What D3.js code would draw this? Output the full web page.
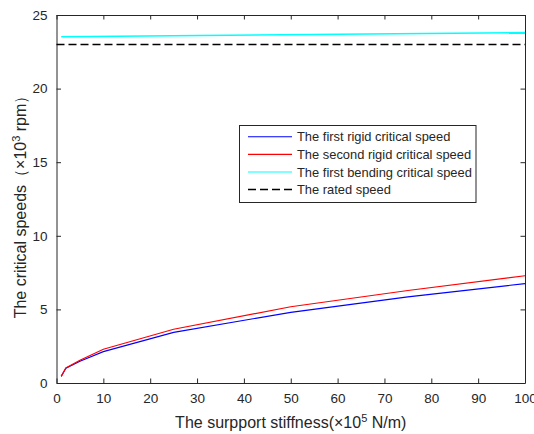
<!DOCTYPE html>
<html>
<head>
<meta charset="utf-8">
<script src="https://cdn.jsdelivr.net/npm/d3@7"></script>
<style>
  html, body { margin: 0; padding: 0; background: #fff; }
  svg { display: block; }
  text { font-family: "Liberation Sans", Arial, Helvetica, sans-serif; fill: #262626; }
</style>
</head>
<body>
<svg id="chart" width="534" height="434"></svg>
<script>
// Support stiffness (×10^5 N/m)
const stiffness = [1, 2, 5, 10, 25, 50, 75, 100];
// Critical speeds (×10^3 rpm)
const firstRigid  = [0.45, 1.00, 1.48, 2.13, 3.44, 4.80, 5.85, 6.75];
const secondRigid = [0.45, 1.02, 1.55, 2.29, 3.65, 5.18, 6.28, 7.29];
const bendingX = [1, 100];
const firstBending = [23.52, 23.80];
const ratedX = [0, 100];
const rated = [23, 23];

const xTicks = [0, 10, 20, 30, 40, 50, 60, 70, 80, 90, 100];
const yTicks = [0, 5, 10, 15, 20, 25];

const legendLabels = [
  "The first rigid critical speed",
  "The second rigid critical speed",
  "The first bending critical speed",
  "The rated speed"
];

const svg = d3.select("#chart");
const W = 534, H = 434;
const m = { left: 56.5, right: 9, top: 15, bottom: 51 };
const x = d3.scaleLinear().domain([0, 100]).range([m.left, W - m.right]);
const y = d3.scaleLinear().domain([0, 25]).range([H - m.bottom, m.top]);

svg.append("rect").attr("width", W).attr("height", H).attr("fill", "#fff");

const axisColor = "#262626";
const tickLen = 4.5;

// Bottom & left axes with inward ticks
const gx = svg.append("g").attr("transform", `translate(0,${y(0)})`)
  .call(d3.axisBottom(x).tickValues(xTicks).tickSizeInner(-tickLen).tickSizeOuter(0).tickPadding(10));
const gy = svg.append("g").attr("transform", `translate(${x(0)},0)`)
  .call(d3.axisLeft(y).tickValues(yTicks).tickSizeInner(-tickLen).tickSizeOuter(0).tickPadding(9));
// Top & right mirrored ticks (no labels)
const gt = svg.append("g").attr("transform", `translate(0,${y(25)})`)
  .call(d3.axisTop(x).tickValues(xTicks).tickSizeInner(-tickLen).tickSizeOuter(0).tickFormat(""));
const gr = svg.append("g").attr("transform", `translate(${x(100)},0)`)
  .call(d3.axisRight(y).tickValues(yTicks).tickSizeInner(-tickLen).tickSizeOuter(0).tickFormat(""));

[gx, gy, gt, gr].forEach(g => {
  g.selectAll("path").attr("stroke", axisColor).attr("stroke-width", 1);
  g.selectAll("line").attr("stroke", axisColor).attr("stroke-width", 1);
  g.selectAll("text").attr("font-size", 13.5).attr("fill", axisColor)
    .style("font-family", '"Liberation Sans", Arial, sans-serif');
});

const line = (xs, ys) => d3.line().x((d, i) => x(xs[i])).y(d => y(d))(ys);

const plot = svg.append("g");
plot.append("path").attr("d", line(ratedX, rated))
  .attr("fill", "none").attr("stroke", "#000").attr("stroke-width", 1.5)
  .attr("stroke-dasharray", "8,4");
plot.append("path").attr("d", line(bendingX, firstBending))
  .attr("fill", "none").attr("stroke", "#00ffff").attr("stroke-width", 1.6);
plot.append("path").attr("d", line(stiffness, firstRigid))
  .attr("fill", "none").attr("stroke", "#0000ff").attr("stroke-width", 1.1);
plot.append("path").attr("d", line(stiffness, secondRigid))
  .attr("fill", "none").attr("stroke", "#ff0000").attr("stroke-width", 1.1);

// Axis titles
const xt = svg.append("text")
  .attr("x", (x(0) + x(100)) / 2).attr("y", 428)
  .attr("text-anchor", "middle").attr("font-size", 16);
xt.append("tspan").text("The surpport stiffness(×10");
xt.append("tspan").attr("dy", -6.5).attr("font-size", 11).text("5");
xt.append("tspan").attr("dy", 6.5).text(" N/m)");

const yt = svg.append("text")
  .attr("transform", `translate(26,${(y(0) + y(25)) / 2 + 4}) rotate(-90)`)
  .attr("text-anchor", "middle").attr("font-size", 16);
yt.append("tspan").text("The critical speeds（×10");
yt.append("tspan").attr("dy", -6.5).attr("font-size", 11).text("3");
yt.append("tspan").attr("dy", 6.5).text(" rpm）");

// Legend
const lg = svg.append("g");
lg.append("rect").attr("x", 239.5).attr("y", 125.5).attr("width", 236.5).attr("height", 77)
  .attr("fill", "#fff").attr("stroke", axisColor).attr("stroke-width", 1);
const legendStyles = [
  { color: "#0000ff", dash: null, w: 1.1 },
  { color: "#ff0000", dash: null, w: 1.1 },
  { color: "#00ffff", dash: null, w: 1.1 },
  { color: "#000000", dash: "8,4", w: 1.5 }
];
legendLabels.forEach((label, i) => {
  const cy = 136.8 + i * 17.6;
  lg.append("line").attr("x1", 248).attr("x2", 292).attr("y1", cy).attr("y2", cy)
    .attr("stroke", legendStyles[i].color).attr("stroke-width", legendStyles[i].w)
    .attr("stroke-dasharray", legendStyles[i].dash);
  lg.append("text").attr("x", 297).attr("y", cy + 4.6).attr("font-size", 12.9).text(label);
});
</script>
</body>
</html>
